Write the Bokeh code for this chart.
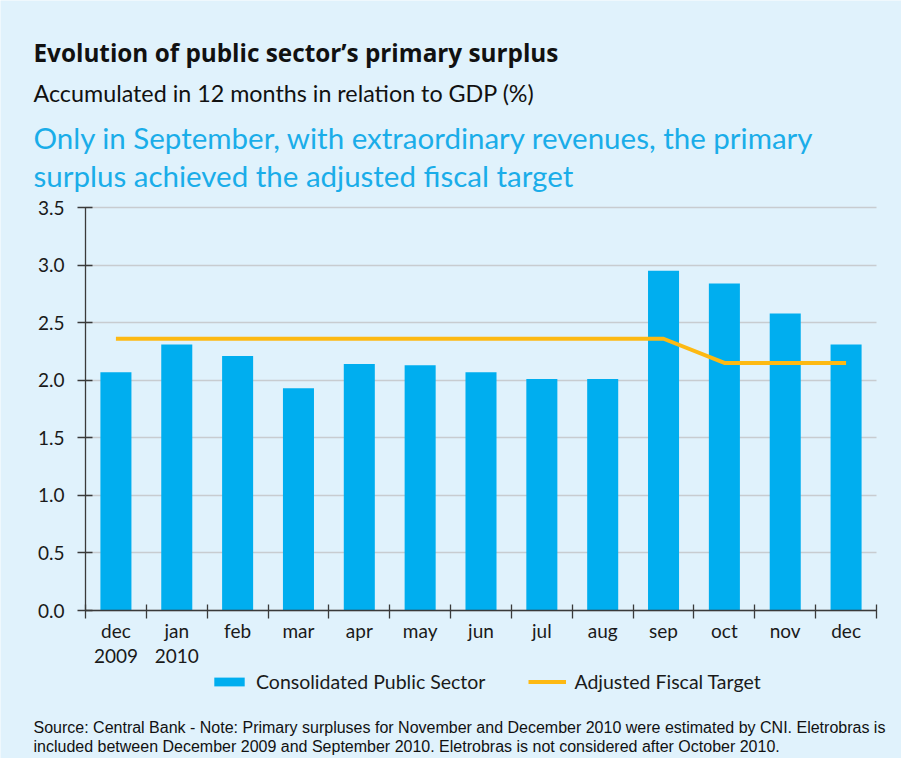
from bokeh.plotting import figure
from bokeh.models import (Range1d, FixedTicker, Legend, LegendItem, Label,
                          ColumnDataSource, Grid)
from bokeh.embed import file_html
from bokeh.resources import INLINE

# ---- data ----
months = ["dec\n2009", "jan\n2010", "feb", "mar", "apr", "may", "jun",
          "jul", "aug", "sep", "oct", "nov", "dec"]
surplus = [2.07, 2.31, 2.21, 1.93, 2.14, 2.13, 2.07, 2.01, 2.01, 2.95, 2.84, 2.58, 2.31]
target = [2.36, 2.36, 2.36, 2.36, 2.36, 2.36, 2.36, 2.36, 2.36, 2.36, 2.15, 2.15, 2.15]
y_ticks = [0.0, 0.5, 1.0, 1.5, 2.0, 2.5, 3.0, 3.5]

title = "Evolution of public sector\u2019s primary surplus"
subtitle = "Accumulated in 12 months in relation to GDP (%)"
headline1 = "Only in September, with extraordinary revenues, the primary"
headline2 = "surplus achieved the adjusted fiscal target"
note1 = ("Source: Central Bank - Note: Primary surpluses for November and December 2010 "
         "were estimated by CNI. Eletrobras is")
note2 = ("included between December 2009 and September 2010. Eletrobras is not "
         "considered after October 2010.")
legend_bar = "Consolidated Public Sector"
legend_line = "Adjusted Fiscal Target"

BG = "#E0F2FC"
BLUE = "#00AEEF"
ORANGE = "#FDB913"
AXIS = "#3a3a3a"
TXT = "#1a1a1a"
FONT = "Lato"

# ---- layout (pixels of the canvas; the plot frame fills the whole canvas) ----
W, H = 901, 758
AX_LEFT, AX_RIGHT, AX_TOP, AX_BOTTOM = 85, 876, 207, 610
n = len(months)
sx = (AX_RIGHT - AX_LEFT) / n
sy = (AX_BOTTOM - AX_TOP) / y_ticks[-1]
x_range = Range1d(-AX_LEFT / sx, n + (W - AX_RIGHT) / sx)
y_range = Range1d(-(H - AX_BOTTOM) / sy, y_ticks[-1] + AX_TOP / sy)

xs = [i + 0.5 for i in range(n)]
src = ColumnDataSource(dict(x=xs, surplus=surplus, target=target))

p = figure(width=W, height=H, output_backend="svg", toolbar_location=None,
           x_range=x_range, y_range=y_range, min_border=0, title=None)
p.background_fill_color = BG
p.border_fill_color = BG
p.outline_line_color = None

bars = p.vbar(x="x", top="surplus", width=0.51, source=src, fill_color=BLUE,
              line_color=None)
line = p.line(x="x", y="target", source=src, line_color=ORANGE, line_width=4,
              line_join="round", line_cap="butt")

# x axis, drawn at y = 0 inside the canvas
p.xaxis.fixed_location = 0
p.xaxis.bounds = (0, n)
p.xaxis.ticker = FixedTicker(ticks=xs, minor_ticks=list(range(n + 1)))
p.xaxis.major_label_overrides = {x: m for x, m in zip(xs, months)}
p.xaxis.major_tick_in = 0
p.xaxis.major_tick_out = 0
p.xaxis.minor_tick_in = 6
p.xaxis.minor_tick_out = 8
p.xaxis.minor_tick_line_color = AXIS
p.xaxis.minor_tick_line_width = 1.3
p.xaxis.major_label_standoff = 0
p.xaxis.major_label_text_font = FONT
p.xaxis.major_label_text_font_size = "19px"
p.xaxis.major_label_text_color = TXT
p.xaxis.major_label_text_line_height = 1.1

# y axis, drawn at x = 0
p.yaxis.fixed_location = 0
p.yaxis.bounds = (0, y_ticks[-1])
p.yaxis.ticker = FixedTicker(ticks=y_ticks, minor_ticks=[])
p.yaxis.major_label_overrides = {t: f"{t:.1f}" for t in y_ticks}
p.yaxis.major_tick_in = 7
p.yaxis.major_tick_out = 8
p.yaxis.major_label_standoff = 13
p.yaxis.major_label_text_font = FONT
p.yaxis.major_label_text_font_size = "19px"
p.yaxis.major_label_text_color = TXT

for ax in (p.xaxis, p.yaxis):
    ax.axis_line_color = AXIS
    ax.axis_line_width = 1.3
    ax.major_tick_line_color = AXIS
    ax.major_tick_line_width = 1.3

p.xgrid.grid_line_color = None
if "cross_bounds" in Grid.properties():
    p.ygrid.cross_bounds = (0, n)
    p.ygrid.grid_line_color = "#c8ccd0"
    p.ygrid.grid_line_width = 1.5
else:
    p.ygrid.grid_line_color = None
    p.segment(x0=[0] * len(y_ticks), x1=[n] * len(y_ticks), y0=y_ticks, y1=y_ticks,
              line_color="#c8ccd0", line_width=1.5, level="underlay")

# legend
legend = Legend(items=[LegendItem(label=legend_bar, renderers=[bars]),
                       LegendItem(label=legend_line, renderers=[line])],
                location=(210, 65), orientation="horizontal",
                padding=0, margin=0, spacing=43, border_line_color=None,
                background_fill_alpha=0, glyph_width=38, glyph_height=11,
                label_standoff=8, label_text_font=FONT,
                label_text_font_size="19.5px", label_text_color=TXT)
p.add_layout(legend)

# texts (screen pixels: x from the left edge, y up from the bottom edge)
def add_text(txt, x, baseline_from_top, size, color, style="normal", font=FONT):
    p.add_layout(Label(x=x, y=H - baseline_from_top, x_units="screen",
                       y_units="screen", text=txt, text_font=font,
                       text_font_size=size, text_color=color,
                       text_font_style=style, text_baseline="alphabetic"))

add_text(title, 33, 52, "24.3px", "#111111", "bold", font="Open Sans")
add_text(subtitle, 33, 92, "23.3px", "#111111")
add_text(headline1, 33, 137, "29.5px", "#1AADE9")
add_text(headline2, 33, 175, "29.5px", "#1AADE9")
add_text(note1, 33, 727, "16px", "#111111", font="Liberation Sans")
add_text(note2, 33, 746, "16px", "#111111", font="Liberation Sans")

open("out.html", "w").write(file_html(p, INLINE))
